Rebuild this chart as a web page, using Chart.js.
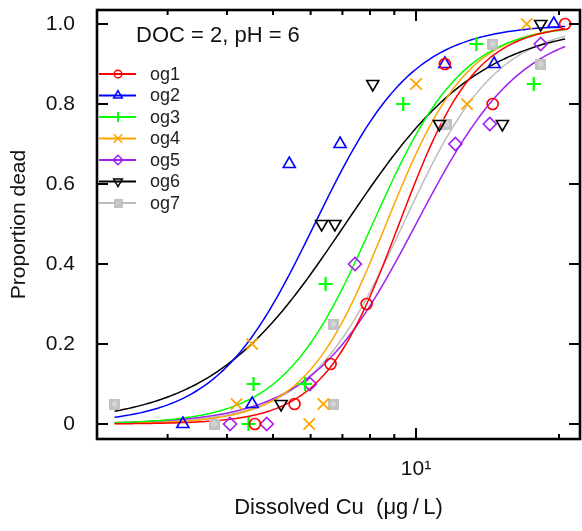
<!DOCTYPE html>
<html>
<head>
<meta charset="utf-8">
<title>Proportion dead vs dissolved Cu</title>
<script src="https://cdn.jsdelivr.net/npm/chart.js"></script>
<style>
  html, body { margin: 0; padding: 0; background: #fff; }
  #wrap { width: 582px; height: 531px; }
</style>
</head>
<body>
<div id="wrap"><canvas id="chart" width="582" height="531"></canvas></div>
<script>
// Groups and their colours / plotting symbols
const groups = ['og1', 'og2', 'og3', 'og4', 'og5', 'og6', 'og7'];
const colors = ['#ff0000', '#0000ff', '#00ff00', '#ffa500', '#a020f0', '#000000', '#bebebe'];

// Observed mortality: dissolved Cu (ug/L) and proportion dead per group
const og1Conc = [4.58, 5.55, 6.61, 7.87, 11.5, 14.5, 20.6];
const og1Dead = [0, 0.05, 0.15, 0.3, 0.9, 0.8, 1.0];
const og2Conc = [3.23, 4.52, 5.41, 6.92, 11.5, 14.6, 19.5];
const og2Dead = [0, 0.05, 0.65, 0.7, 0.9, 0.9, 1.0];
const og3Conc = [4.44, 4.55, 5.84, 6.45, 9.4, 13.4, 17.7];
const og3Dead = [0, 0.1, 0.1, 0.35, 0.8, 0.95, 0.85];
const og4Conc = [4.19, 4.52, 5.96, 6.38, 10.0, 12.8, 17.1];
const og4Dead = [0.05, 0.2, 0, 0.05, 0.85, 0.8, 1.0];
const og5Conc = [4.06, 4.85, 5.98, 7.44, 12.1, 14.3, 18.3];
const og5Dead = [0, 0, 0.1, 0.4, 0.7, 0.75, 0.95];
const og6Conc = [5.2, 6.33, 6.75, 8.11, 11.2, 15.2, 18.3];
const og6Dead = [0.05, 0.5, 0.5, 0.85, 0.75, 0.75, 1.0];
const og7Conc = [2.32, 3.76, 6.7, 6.7, 11.6, 14.5, 18.3];
const og7Dead = [0.05, 0, 0.05, 0.25, 0.75, 0.95, 0.9];

// Fitted two-parameter log-logistic model per group: LC50 (ug/L) and slope
const lc50  = [9.21, 6.12, 8.1, 8.65, 10.0, 7.1, 9.4];
const slope = [5.4, 4.2, 4.57, 5.05, 3.9, 3.05, 4.4];

// Axis ticks
const yTicks = [0, 0.2, 0.4, 0.6, 0.8, 1.0];
const xTicks = [3, 4, 5, 6, 7, 8, 9, 10, 20];
const xMajor = [10];

const concs = [og1Conc, og2Conc, og3Conc, og4Conc, og5Conc, og6Conc, og7Conc];
const deads = [og1Dead, og2Dead, og3Dead, og4Dead, og5Dead, og6Dead, og7Dead];

// Plot panel edges inside the 582 x 531 canvas
const PANEL = { left: 97, top: 10, right: 580, bottom: 439 };

// boxed-cross symbol for og7
function boxedCross(size) {
  const c = document.createElement('canvas');
  c.width = size; c.height = size;
  const g = c.getContext('2d');
  g.fillStyle = '#c2c2c2';
  g.fillRect(0, 0, size, size);
  const m = Math.round(size * 0.28);
  g.fillStyle = '#e2e2e2';
  g.fillRect(m, m, size - 2 * m, size - 2 * m);
  g.strokeStyle = '#bdbdbd';
  g.lineWidth = 1;
  g.beginPath();
  g.moveTo(m, m); g.lineTo(size - m, size - m);
  g.moveTo(size - m, m); g.lineTo(m, size - m);
  g.stroke();
  return c;
}

const symbols = [
  { style: 'circle', radius: 5.5, rotation: 0, width: 1.6 },
  { style: 'triangle', radius: 7, rotation: 0, width: 1.6 },
  { style: 'cross', radius: 7, rotation: 0, width: 2.2 },
  { style: 'crossRot', radius: 8, rotation: 0, width: 1.8 },
  { style: 'rectRot', radius: 6.5, rotation: 0, width: 1.6 },
  { style: 'triangle', radius: 7, rotation: 180, width: 1.6 },
  { style: boxedCross(11), radius: 6, rotation: 0, width: 1 }
];
const legendSymbols = [
  { style: 'circle', radius: 3.8, rotation: 0, width: 1.4 },
  { style: 'triangle', radius: 5, rotation: 0, width: 1.5 },
  { style: 'cross', radius: 5, rotation: 0, width: 2 },
  { style: 'crossRot', radius: 6, rotation: 0, width: 1.6 },
  { style: 'rectRot', radius: 4.8, rotation: 0, width: 1.5 },
  { style: 'triangle', radius: 5, rotation: 180, width: 1.5 },
  { style: boxedCross(9), radius: 4.5, rotation: 0, width: 1 }
];

// Smooth fitted curves across the tested concentration range
const allConc = concs.flat();
const cMin = Math.min(...allConc);
const cMax = Math.max(...allConc);
function fittedCurve(i) {
  const pts = [];
  const n = 160;
  for (let k = 0; k < n; k++) {
    const x = cMin * Math.pow(cMax / cMin, k / (n - 1));
    pts.push({ x: x, y: 1 / (1 + Math.pow(x / lc50[i], -slope[i])) });
  }
  return pts;
}

const datasets = [];
groups.forEach((g, i) => {
  datasets.push({
    label: g + ' fit',
    data: fittedCurve(i),
    showLine: true,
    borderColor: colors[i],
    borderWidth: 1.5,
    pointRadius: 0,
    fill: false,
    tension: 0,
    order: 2
  });
});
groups.forEach((g, i) => {
  const s = symbols[i];
  datasets.push({
    label: g,
    data: concs[i].map((c, k) => ({ x: c, y: deads[i][k] })),
    showLine: false,
    pointStyle: s.style,
    pointRadius: s.radius,
    pointRotation: s.rotation,
    pointBorderWidth: s.width,
    pointBorderColor: colors[i],
    pointBackgroundColor: 'rgba(0,0,0,0)',
    order: 1
  });
});

const FONT = "'Liberation Sans', Arial, Helvetica, sans-serif";

function drawSymbol(ctx, s, color, x, y) {
  ctx.save();
  ctx.strokeStyle = color;
  ctx.lineWidth = s.width;
  const r = s.radius;
  ctx.beginPath();
  if (typeof s.style !== 'string') {
    ctx.drawImage(s.style, x - s.style.width / 2, y - s.style.height / 2);
  } else if (s.style === 'circle') {
    ctx.arc(x, y, r, 0, Math.PI * 2);
  } else if (s.style === 'triangle') {
    const dir = s.rotation === 180 ? -1 : 1;
    const a = Math.PI * 2 / 3;
    for (let k = 0; k < 3; k++) {
      const px = x + Math.sin(k * a) * r;
      const py = y - dir * Math.cos(k * a) * r;
      if (k === 0) ctx.moveTo(px, py); else ctx.lineTo(px, py);
    }
    ctx.closePath();
  } else if (s.style === 'cross') {
    ctx.moveTo(x - r, y); ctx.lineTo(x + r, y);
    ctx.moveTo(x, y - r); ctx.lineTo(x, y + r);
  } else if (s.style === 'crossRot') {
    const d = r * Math.SQRT1_2;
    ctx.moveTo(x - d, y - d); ctx.lineTo(x + d, y + d);
    ctx.moveTo(x + d, y - d); ctx.lineTo(x - d, y + d);
  } else if (s.style === 'rectRot') {
    ctx.moveTo(x, y - r); ctx.lineTo(x + r, y); ctx.lineTo(x, y + r); ctx.lineTo(x - r, y);
    ctx.closePath();
  }
  ctx.stroke();
  ctx.restore();
}

// Keep the plot panel at fixed edges, then re-map the scales to it
const pinPanel = {
  id: 'pinPanel',
  afterLayout(chart) {
    const a = chart.chartArea;
    Object.assign(a, PANEL);
    a.width = PANEL.right - PANEL.left;
    a.height = PANEL.bottom - PANEL.top;
    const { x, y } = chart.scales;
    x.left = PANEL.left; x.right = PANEL.right; x.width = a.width;
    x.top = PANEL.bottom;
    y.top = PANEL.top; y.bottom = PANEL.bottom; y.height = a.height;
    y.right = PANEL.left;
    x.configure();
    y.configure();
  }
};

// Frame, inward tick marks, legend and panel label
const decorations = {
  id: 'decorations',
  afterDraw(chart) {
    const { ctx, chartArea: { left, right, top, bottom }, scales: { x, y } } = chart;
    ctx.save();
    ctx.strokeStyle = '#000';
    ctx.lineWidth = 2;
    ctx.beginPath();
    x.ticks.forEach(t => {
      const px = x.getPixelForValue(t.value);
      const len = xMajor.includes(t.value) ? 11 : 5;
      ctx.moveTo(px, bottom); ctx.lineTo(px, bottom - len);
      ctx.moveTo(px, top); ctx.lineTo(px, top + len);
    });
    y.ticks.forEach(t => {
      const py = y.getPixelForValue(t.value);
      ctx.moveTo(left, py); ctx.lineTo(left + 11, py);
      ctx.moveTo(right, py); ctx.lineTo(right - 11, py);
    });
    ctx.stroke();
    ctx.lineWidth = 2.6;
    ctx.strokeRect(left, top, right - left, bottom - top);

    // panel label
    ctx.fillStyle = '#111';
    ctx.font = '22px ' + FONT;
    ctx.textAlign = 'left';
    ctx.textBaseline = 'middle';
    ctx.fillText('DOC = 2, pH = 6', left + 39, top + 26);

    // legend
    ctx.font = '18px ' + FONT;
    groups.forEach((g, i) => {
      const ly = top + 64 + i * 21.5;
      ctx.strokeStyle = colors[i];
      ctx.lineWidth = 2;
      ctx.beginPath();
      ctx.moveTo(left + 2, ly); ctx.lineTo(left + 39, ly);
      ctx.stroke();
      drawSymbol(ctx, legendSymbols[i], colors[i], left + 21, ly);
      ctx.fillStyle = '#222';
      ctx.fillText(g, left + 53, ly + 1);
    });
    ctx.restore();
  }
};

new Chart(document.getElementById('chart'), {
  type: 'scatter',
  data: { datasets: datasets },
  plugins: [pinPanel, decorations],
  options: {
    responsive: false,
    animation: false,
    events: [],
    layout: { padding: { top: 10, right: 2, left: 0, bottom: 0 } },
    plugins: { legend: { display: false }, tooltip: { enabled: false } },
    scales: {
      x: {
        type: 'logarithmic',
        min: 2.1304,
        max: 22.14,
        grid: { display: false, drawTicks: false },
        border: { display: false },
        afterBuildTicks: s => { s.ticks = xTicks.map(v => ({ value: v, major: xMajor.includes(v) })); },
        afterFit: s => { s.height = 92; s.paddingLeft = 0; s.paddingRight = 0; },
        ticks: {
          autoSkip: false,
          maxRotation: 0,
          padding: 18,
          color: '#111',
          font: { family: FONT, size: 21 },
          callback: v => (xMajor.includes(v) ? '10\u00B9' : '')
        },
        title: {
          display: true,
          text: 'Dissolved Cu  (\u03BCg\u2009/\u2009L)',
          color: '#111',
          font: { family: FONT, size: 22 },
          padding: { top: 0, bottom: 10 }
        }
      },
      y: {
        type: 'linear',
        min: -0.0375,
        max: 1.035,
        grid: { display: false, drawTicks: false },
        border: { display: false },
        afterBuildTicks: s => { s.ticks = yTicks.map(v => ({ value: v })); },
        afterFit: s => { s.width = 97; s.paddingTop = 0; s.paddingBottom = 0; },
        ticks: {
          padding: 22,
          color: '#111',
          font: { family: FONT, size: 21 },
          callback: v => (v === 0 ? '0' : v.toFixed(1))
        },
        title: {
          display: true,
          text: 'Proportion dead',
          color: '#111',
          font: { family: FONT, size: 21 },
          padding: { top: 7, bottom: 0 }
        }
      }
    }
  }
});
</script>
</body>
</html>
